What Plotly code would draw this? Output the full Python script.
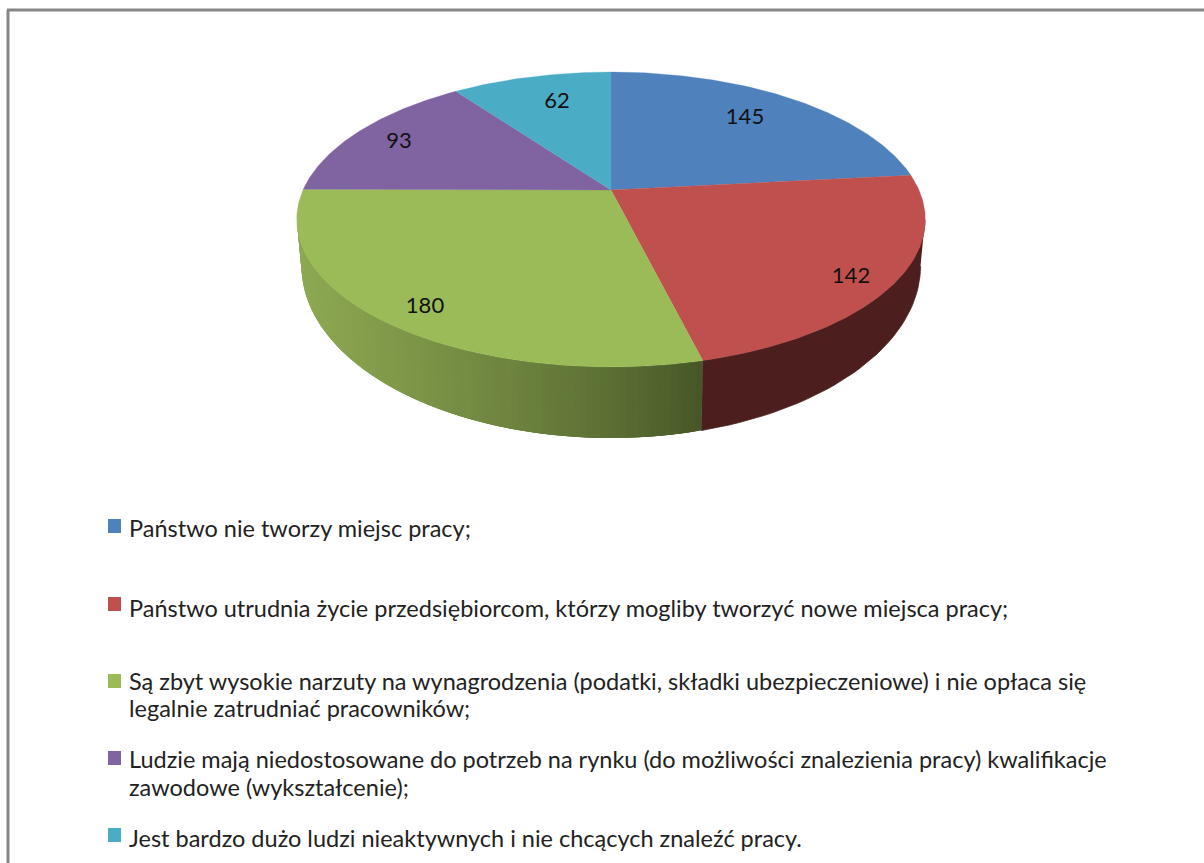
import math
import plotly.graph_objects as go

# ---- data ----
categories = [
    "Państwo nie tworzy miejsc pracy;",
    "Państwo utrudnia życie przedsiębiorcom, którzy mogliby tworzyć nowe miejsca pracy;",
    "Są zbyt wysokie narzuty na wynagrodzenia (podatki, składki ubezpieczeniowe) i nie opłaca się legalnie zatrudniać pracowników;",
    "Ludzie mają niedostosowane do potrzeb na rynku (do możliwości znalezienia pracy) kwalifikacje zawodowe (wykształcenie);",
    "Jest bardzo dużo ludzi nieaktywnych i nie chcących znaleźć pracy.",
]
values = [145, 142, 180, 93, 62]

# ---- style and layout ----
colors = ["#4F81BD", "#C0504D", "#9BBB59", "#8064A2", "#4BACC6"]
legend_lines = [
    ["Państwo nie tworzy miejsc pracy;"],
    ["Państwo utrudnia życie przedsiębiorcom, którzy mogliby tworzyć nowe miejsca pracy;"],
    ["Są zbyt wysokie narzuty na wynagrodzenia (podatki, składki ubezpieczeniowe) i nie opłaca się",
     "legalnie zatrudniać pracowników;"],
    ["Ludzie mają niedostosowane do potrzeb na rynku (do możliwości znalezienia pracy) kwalifikacje",
     "zawodowe (wykształcenie);"],
    ["Jest bardzo dużo ludzi nieaktywnych i nie chcących znaleźć pracy."],
]
legend_y = [[528], [608], [681, 708], [759, 787], [838]]
swatch_y = [526, 604, 681, 758, 835]
label_xy = [(745, 118), (851, 277), (425, 307), (399, 142), (557, 102)]

W, H = 1204, 863
CX, CY = 611, 190           # pie apex on the page
R, SY, K = 308, 141.6, 0.2  # perspective of the top face
EY = 219.5                  # centre of the projected top ellipse
ERX, ERY = 314, 147.5
BOT_CY, BOT_RX, BOT_RY = 266, 309.5, 172  # lower rim ellipse


def project(theta):
    """Clockwise angle from the top of the pie -> page position on the rim."""
    x, y = math.sin(theta), math.cos(theta)
    d = 1 + K * y
    return CX + R * x / d, CY - SY * y / d


total = sum(values)
edges = [0.0]
for v in values:
    edges.append(edges[-1] + 2 * math.pi * v / total)

fig = go.Figure()


def poly(xs, ys, color, lw=0.8):
    fig.add_trace(go.Scatter(x=xs, y=ys, mode="lines", fill="toself", fillcolor=color,
                             line=dict(color=color, width=lw), hoverinfo="skip",
                             showlegend=False))


def side_pt(phi):
    return (CX + ERX * math.cos(phi), EY + ERY * math.sin(phi),
            CX + BOT_RX * math.cos(phi), BOT_CY + BOT_RY * math.sin(phi))


def mix(a, b, t):
    return "rgb(%d,%d,%d)" % tuple(round(a[i] + (b[i] - a[i]) * t) for i in range(3))


# side wall: the front half of the rim, split where slice 2 meets slice 3
bx, by = project(edges[2])
phi_split = math.atan2((by - EY) / ERY, (bx - CX) / ERX)

# red wall (nearly flat colour)
n = 40
pts = [side_pt(phi_split * i / n) for i in range(n + 1)]
poly([p[0] for p in pts] + [p[2] for p in reversed(pts)],
     [p[1] for p in pts] + [p[3] for p in reversed(pts)], "#4C1F1E")

# green wall with a horizontal gradient: each strip overlaps the next so no seams show
n = 90
light, dark = (142, 169, 82), (69, 85, 38)
for i in range(n):
    a = phi_split + (math.pi - phi_split) * i / n
    b = phi_split + (math.pi - phi_split) * min(i + 3, n) / n
    c = phi_split + (math.pi - phi_split) * (i + 1) / n
    arc = [side_pt(a), side_pt(c), side_pt(b)]
    t = (bx - (arc[0][0] + arc[1][0]) / 2) / (bx - (CX - ERX))
    poly([p[0] for p in arc] + [p[2] for p in reversed(arc)],
         [p[1] for p in arc] + [p[3] for p in reversed(arc)],
         mix(dark, light, t ** 0.8), lw=0)

# top face
for i, c in enumerate(colors):
    steps = max(8, int(values[i]))
    rim = [project(edges[i] + (edges[i + 1] - edges[i]) * j / steps) for j in range(steps + 1)]
    poly([CX] + [p[0] for p in rim] + [CX], [CY] + [p[1] for p in rim] + [CY], c, lw=0.3)

# value labels
fig.add_trace(go.Scatter(x=[p[0] for p in label_xy], y=[p[1] for p in label_xy],
                         text=[str(v) for v in values], mode="text",
                         textposition="middle center", hoverinfo="skip", showlegend=False,
                         textfont=dict(family="Lato", size=22, color="#111111")))

# legend
shapes = [
    dict(type="line", x0=8, x1=8, y0=10, y1=H, line=dict(color="#868686", width=3)),
    dict(type="line", x0=7, x1=W, y0=10, y1=10, line=dict(color="#868686", width=3)),
]
annotations = []
for c, sy, lines, ys in zip(colors, swatch_y, legend_lines, legend_y):
    shapes.append(dict(type="rect", x0=108, x1=121, y0=sy - 7, y1=sy + 7,
                       fillcolor=c, line=dict(width=0)))
    for txt, y in zip(lines, ys):
        annotations.append(dict(x=127, y=y, text=txt, showarrow=False, xanchor="left",
                                yanchor="middle", xref="x", yref="y",
                                font=dict(family="Lato", size=23.5, color="#222222")))

fig.update_layout(
    width=W, height=H, margin=dict(l=0, r=0, t=0, b=0), autosize=False,
    paper_bgcolor="white", plot_bgcolor="white", showlegend=False,
    xaxis=dict(range=[0, W], visible=False, fixedrange=True),
    yaxis=dict(range=[H, 0], visible=False, fixedrange=True),
    shapes=shapes, annotations=annotations,
)
fig.write_html("out.html", config={"displayModeBar": False},
               post_script="document.body.style.margin='0';document.documentElement.style.overflow='hidden';")
